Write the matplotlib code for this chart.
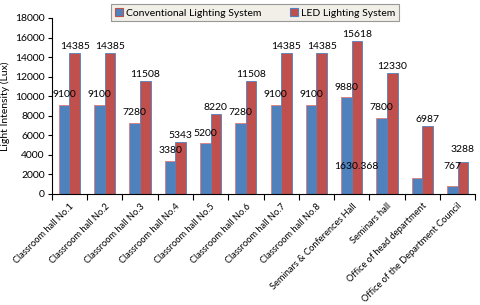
import numpy as np
import matplotlib
matplotlib.use("Agg")
import matplotlib.pyplot as plt
from matplotlib.patches import Patch

plt.rcParams["font.family"] = ["Lato", "DejaVu Sans"]

halls = ["Classroom hall No.1", "Classroom hall No.2", "Classroom hall No.3",
         "Classroom hall No.4", "Classroom hall No.5", "Classroom hall No.6",
         "Classroom hall No.7", "Classroom hall No.8",
         "Seminars & Conferences Hall", "Seminars hall",
         "Office of head department", "Office of the Department Council"]
conventional = [9100, 9100, 7280, 3380, 5200, 7280, 9100, 9100, 9880, 7800, 1630.368, 767]
led = [14385, 14385, 11508, 5343, 8220, 11508, 14385, 14385, 15618, 12330, 6987, 3288]
conv_labels = ["9100", "9100", "7280", "3380", "5200", "7280", "9100", "9100",
               "9880", "7800", "1630.368", "767"]
led_labels = [str(v) for v in led]

blue = "#4f81bd"
red = "#c0504d"

fig = plt.figure(figsize=(4.8, 3.05), dpi=100)
ax = fig.add_axes([0.108, 0.364, 0.882, 0.577])

x = np.arange(len(halls))
w = 0.3
ax.bar(x - w / 2, conventional, w, color=blue, edgecolor="#e07a78", linewidth=0.6, zorder=2)
ax.bar(x + w / 2, led, w, color=red, edgecolor=blue, linewidth=0.6, zorder=2)

# data labels (two of them were dragged off their bars in the original)
for i in range(len(halls)):
    if i == 10:
        ax.text(8.14, 2760, conv_labels[i], ha="center", va="center", fontsize=7.5, zorder=3)
    elif i == 11:
        ax.text(10.85, 2760, conv_labels[i], ha="center", va="center", fontsize=7.5, zorder=3)
    else:
        ax.annotate(conv_labels[i], (x[i] - w / 2, conventional[i]), xytext=(0, 4),
                    textcoords="offset points", ha="center", va="bottom", fontsize=7.5, zorder=3)
    dy = 6 if i == 11 else 1.5
    ax.annotate(led_labels[i], (x[i] + w / 2, led[i]), xytext=(0, dy),
                textcoords="offset points", ha="center", va="bottom", fontsize=7.5, zorder=3)

ax.set_xlim(-0.5, len(halls) - 0.5)
ax.set_ylim(0, 18000)
ax.set_yticks(np.arange(0, 18001, 2000))
ax.tick_params(axis="y", direction="out", length=3, labelsize=7.5, width=0.8, pad=2)

ax.set_xticks(np.arange(-0.5, len(halls), 1.0))
ax.set_xticklabels([])
ax.set_xticks(x, minor=True)
ax.set_xticklabels(halls, minor=True, rotation=45, ha="right", rotation_mode="anchor",
                   fontsize=6.7)
ax.tick_params(axis="x", which="major", direction="out", length=4, width=0.8)
ax.tick_params(axis="x", which="minor", length=0, pad=5.5)

for s in ["top", "right"]:
    ax.spines[s].set_visible(False)
ax.spines["left"].set_linewidth(0.8)
ax.spines["bottom"].set_linewidth(0.8)

ax.set_ylabel("Light Intensity (Lux)", fontsize=7.5)
ax.yaxis.set_label_coords(-0.098, 0.5)

handles = [Patch(facecolor=blue, edgecolor=red, linewidth=0.8),
           Patch(facecolor=red, edgecolor=blue, linewidth=0.8)]
leg = fig.legend(handles, ["Conventional Lighting System", "LED Lighting System"],
                 loc="center", bbox_to_anchor=(0.532, 0.958), ncol=2, fontsize=7.5,
                 frameon=True, fancybox=False, handlelength=0.8, handleheight=0.8,
                 handletextpad=0.3, columnspacing=2.7, borderpad=0.35)
leg.get_frame().set_facecolor("#eeece1")
leg.get_frame().set_edgecolor("#808080")
leg.get_frame().set_linewidth(0.8)

fig.savefig("out.png", dpi=100)
